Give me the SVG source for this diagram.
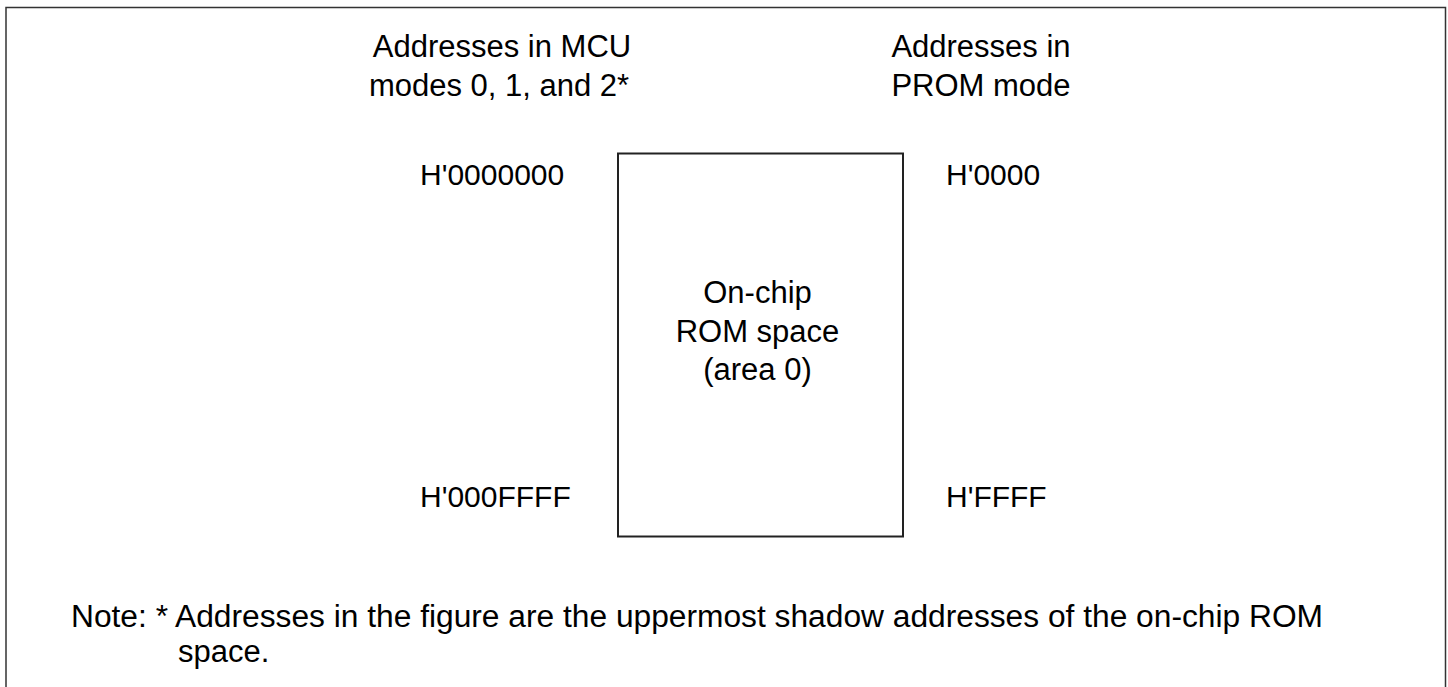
<svg xmlns="http://www.w3.org/2000/svg" width="1448" height="687" viewBox="0 0 1448 687">
<style>
text{font-family:"Liberation Sans",Arial,sans-serif;font-size:31px;fill:#000}
.c{text-anchor:middle}
.a{font-size:30px}
</style>
<rect width="1448" height="687" fill="#fff"/>
<g id="frame"><path d="M6,700 V7.5 H1445.5 V700" fill="none" stroke="#333" stroke-width="1.5"/></g>
<g id="header-mcu"><text class="c" x="502" y="57">Addresses in MCU</text><text class="c" x="499" y="95.5">modes 0, 1, and 2*</text></g>
<g id="header-prom"><text class="c" x="981" y="57">Addresses in</text><text class="c" x="981" y="95.5">PROM mode</text></g>
<g id="rom"><rect x="618" y="153.5" width="285" height="383" fill="none" stroke="#222" stroke-width="2"/>
<text class="c" x="757.5" y="303">On-chip</text><text class="c" x="757.5" y="341.5">ROM space</text><text class="c" x="757.5" y="380">(area 0)</text></g>
<g id="addr-mcu-start"><text class="a" x="420" y="185">H'0000000</text></g>
<g id="addr-mcu-end"><text class="a" x="420" y="507">H'000FFFF</text></g>
<g id="addr-prom-start"><text class="a" x="946" y="185">H'0000</text></g>
<g id="addr-prom-end"><text class="a" x="946" y="507">H'FFFF</text></g>
<g id="connectors"></g>
<g id="note"><text x="71" y="627" textLength="1252" lengthAdjust="spacingAndGlyphs">Note: * Addresses in the figure are the uppermost shadow addresses of the on-chip ROM</text><text x="178" y="662">space.</text></g>
</svg>
